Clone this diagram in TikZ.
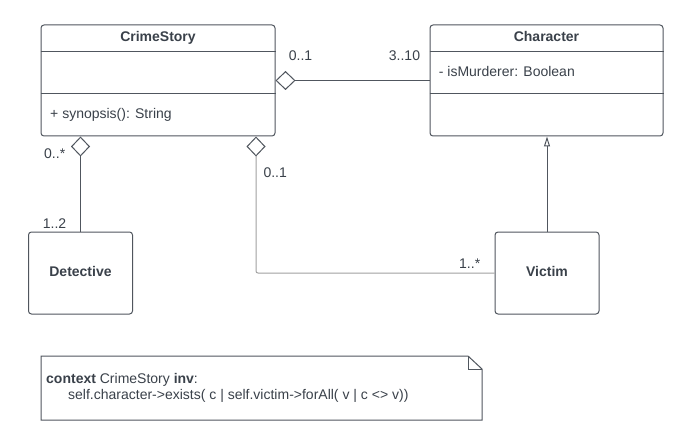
\documentclass[tikz,border=0pt]{standalone}
\usepackage{fontspec}
\setmainfont{Liberation Sans}
\usetikzlibrary{arrows.meta}
\definecolor{umlline}{RGB}{80,86,94}
\definecolor{umltext}{RGB}{58,65,74}
\definecolor{linklight}{RGB}{160,160,160}

\tikzset{
  classbox/.style={draw=umlline,line width=1pt,rounded corners=3pt,inner sep=0pt},
  lbl/.style={anchor=base west,inner sep=0pt,text=umltext},
  cname/.style={anchor=base,inner sep=0pt,text=umltext,font=\fontsize{14}{16}\selectfont\bfseries},
  aggr/.style={draw=umlline,line width=1pt,{Diamond[open,length=20pt,width=19pt,color=umlline]}-},
  inherit/.style={draw=umlline,line width=1pt,-{Triangle[open,length=10pt,width=6pt]}}
}

\begin{document}
\begin{tikzpicture}[x=1pt,y=-1pt,font=\fontsize{14}{16}\selectfont]
  \fill[white] (0,0) rectangle (681,436);
  \useasboundingbox (0,0) rectangle (681,436);

  % classes
  \node[classbox,minimum width=234pt,minimum height=111pt] (crime) at (158,80.5) {};
  \draw[umlline,line width=1pt] (crime.west |- 0,52)--(crime.east |- 0,52);
  \draw[umlline,line width=1pt] (crime.west |- 0,94)--(crime.east |- 0,94);
  \node[cname] (crimeName) at (158,42) {CrimeStory};
  \node[lbl] (crimeOp) at (50,118) {+ synopsis(): String};

  \node[classbox,minimum width=233pt,minimum height=111pt] (character) at (546.5,80.5) {};
  \draw[umlline,line width=1pt] (character.west |- 0,52)--(character.east |- 0,52);
  \draw[umlline,line width=1pt] (character.west |- 0,94)--(character.east |- 0,94);
  \node[cname] (characterName) at (546.5,42) {Character};
  \node[lbl] (characterAttr) at (438.7,77) {- isMurderer: Boolean};

  \node[classbox,minimum width=104pt,minimum height=82pt] (detective) at (80.5,273) {};
  \node[cname] (detectiveName) at (80.5,276) {Detective};

  \node[classbox,minimum width=104pt,minimum height=82pt] (victim) at (547,273) {};
  \node[cname] (victimName) at (547,276.5) {Victim};

  % associations
  \draw[aggr] (crime.east)--(character.west);
  \draw[aggr] (crime.south -| detective.north)--(detective.north);
  \coordinate (crimeV) at (crime.south -| 256,0);
  \draw[aggr,draw=linklight,rounded corners=2pt] (crimeV) |- (victim.west);
  \draw[inherit] (victim.north)--(victim.north |- character.south);

  \node[lbl] (mCrimeChar) at (288.7,61) {0..1};
  \node[lbl] (mCharCrime) at (388.7,61) {3..10};
  \node[lbl] (mCrimeDet) at (44,158.5) {0..*};
  \node[lbl] (mDetCrime) at (42.7,228) {1..2};
  \node[lbl] (mCrimeVic) at (263.3,177) {0..1};
  \node[lbl] (mVicCrime) at (459,268) {1..*};

  % note
  \draw[umlline,line width=1pt,fill=white] (41,356)--(468,356)--(482,369)--(482,420)--(41,420)--cycle;
  \draw[umlline,line width=1pt] (468,356)--(468,369)--(482,369);
  \node[lbl] (noteHead) at (46,383) {\textbf{context} CrimeStory \textbf{inv}:};
  \node[lbl] (noteBody) at (68,399) {self.character->exists( c | self.victim->forAll( v | c <> v))};
\end{tikzpicture}
\end{document}
